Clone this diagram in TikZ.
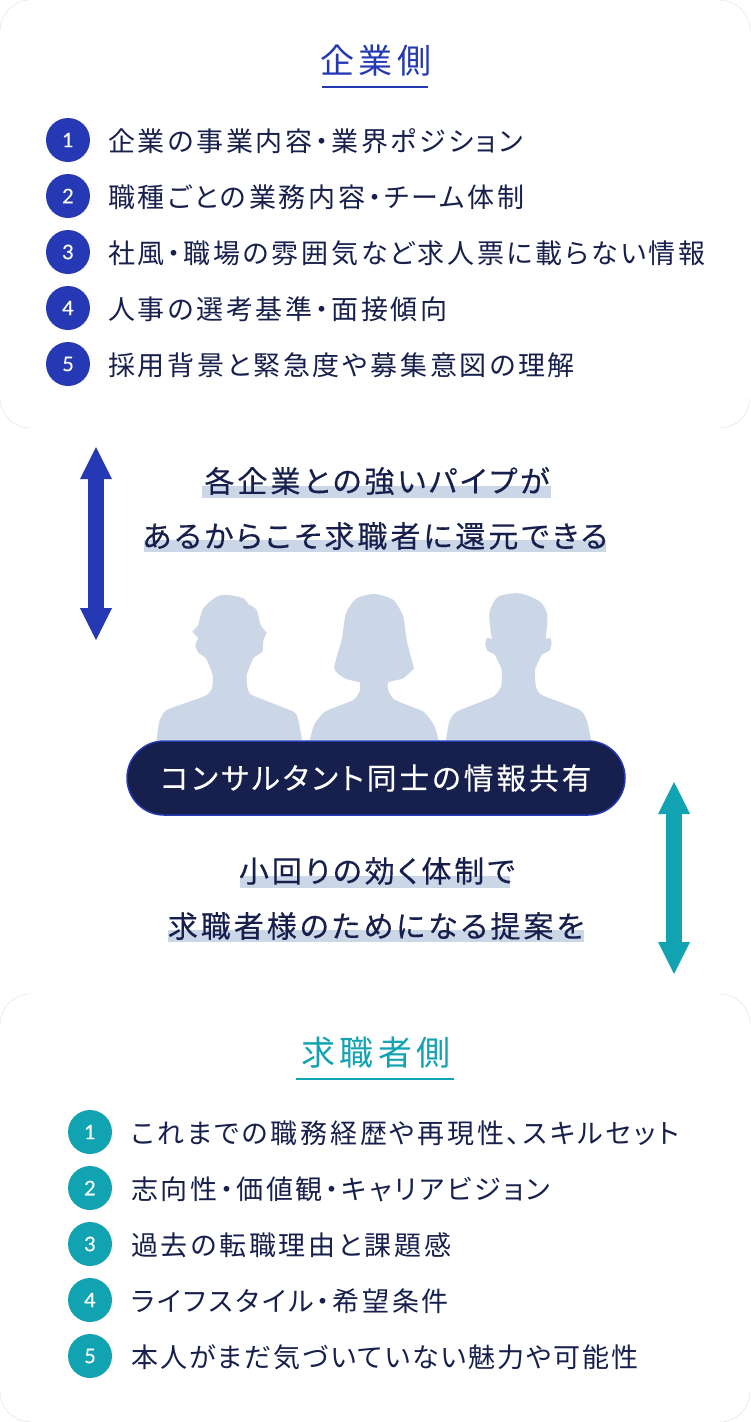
\documentclass[tikz,border=0pt]{standalone}
\usepackage{fontspec}
\usepackage{xcolor}
\setmainfont[RawFeature=+palt,LetterSpace=10]{Noto Sans CJK JP}
\newfontfamily\numfont[FakeBold=0.3]{Lato}
\newfontfamily\headfont[RawFeature=+palt,LetterSpace=12]{Noto Sans CJK JP}
\newfontfamily\leadfont[RawFeature=+palt,LetterSpace=10,FakeBold=0.3]{Noto Sans CJK JP}
\newfontfamily\tightfont[RawFeature=+palt,LetterSpace=7.5]{Noto Sans CJK JP}
\definecolor{royal}{RGB}{37,57,180}
\definecolor{navy}{RGB}{23,31,76}
\definecolor{teal2}{RGB}{18,163,179}
\definecolor{paleblue}{RGB}{203,215,231}
\definecolor{edgegray}{RGB}{226,232,241}
\usetikzlibrary{arrows.meta}
\usetikzlibrary{positioning}
\tikzset{
	cardedge/.style={draw=edgegray, line width=0.6pt},
	numdot/.style={circle, minimum size=44pt, inner sep=0pt, text=white, font=\numfont\fontsize{20}{20}\selectfont},
	itemtext/.style={anchor=west, inner sep=0pt, yshift=-1pt, text=navy, font=\fontsize{27}{27}\selectfont},
	headtext/.style={anchor=center, inner sep=0pt, font=\headfont\fontsize{34}{34}\selectfont},
	leadtext/.style={anchor=center, inner sep=0pt, text=navy, font=\leadfont\fontsize{30}{30}\selectfont},
	bigarrow/.style={line width=16pt, {Triangle[length=32pt,width=32pt,line width=0pt]}-{Triangle[length=32pt,width=32pt,line width=0pt]}},
}

\begin{document}
\begin{tikzpicture}[x=1pt, y=-1pt]
	\useasboundingbox (0,0) rectangle (750,1422);
	\fill[white] (0,0) rectangle (750,1422);
	% card corners
	\draw[cardedge] (0.3,30) arc[start angle=180, end angle=90, radius=30pt]
		(720,0.3) arc[start angle=90, end angle=0, radius=30pt]
		(749.7,398) arc[start angle=0, end angle=-90, radius=30pt]
		(30,428) arc[start angle=-90, end angle=-180, radius=30pt];
	\draw[cardedge] (0.3,1024) arc[start angle=180, end angle=90, radius=30pt]
		(720,994) arc[start angle=90, end angle=0, radius=30pt]
		(749.7,1392) arc[start angle=0, end angle=-90, radius=30pt]
		(30,1421.7) arc[start angle=-90, end angle=-180, radius=30pt];

	% company side
	\node[headtext, text=royal] (compHead) at (376,61) {企業側};
	\draw[color=royal, line width=2pt] (322,87) -- (428,87);
	\node[numdot, fill=royal] (compNum1) at (68,140) {1};
	\node[numdot, fill=royal] (compNum2) at (68,196) {2};
	\node[numdot, fill=royal] (compNum3) at (68,252) {3};
	\node[numdot, fill=royal] (compNum4) at (68,308) {4};
	\node[numdot, fill=royal] (compNum5) at (68,364) {5};
	\node[itemtext] (compItem1) at (108,140) {企業の事業内容・業界ポジション};
	\node[itemtext] (compItem2) at (108,196) {職種ごとの業務内容・チーム体制};
	\node[itemtext] (compItem3) at (108,252) {社風・職場の雰囲気など求人票に載らない情報};
	\node[itemtext] (compItem4) at (108,308) {人事の選考基準・面接傾向};
	\node[itemtext] (compItem5) at (108,364) {採用背景と緊急度や募集意図の理解};

	% arrows
	\coordinate (blueTop) at (96,447);
	\coordinate (blueBot) at (96,640);
	\coordinate (tealTop) at (674,782);
	\coordinate (tealBot) at (674,974);
	\draw[bigarrow, color=royal] (blueTop) -- (blueBot);
	\draw[bigarrow, color=teal2] (tealTop) -- (tealBot);

	% lead texts with bands
	\fill[paleblue] (202,486) rectangle (551,498);
	\fill[paleblue] (144,540) rectangle (606,552);
	\fill[paleblue] (240,876) rectangle (510,888);
	\fill[paleblue] (168,930) rectangle (584,942);
	\node[leadtext] (leadA) at (377,481) {各企業との強いパイプが};
	\node[leadtext] (leadB) at (375,536) {あるからこそ求職者に還元できる};
	\node[leadtext] (leadC) at (377,871) {小回りの効く体制で};
	\node[leadtext] (leadD) at (376,926) {求職者様のためになる提案を};

	% people
	\begin{scope}[shift={(130,580)}, x=0.3333pt, y=-0.3333pt]
		\fill[paleblue] plot[smooth, tension=0.3] coordinates {(80,480) (88,425) (110,390) (225,348) (246,325) (248,285) (228,235) (205,218) (196,195) (205,175)}
			-- (187,155) -- plot[smooth, tension=0.45] coordinates {(205,135) (220,85) (260,50) (295,45) (340,55) (355,72) (380,90) (392,135) (410,158)}
			-- plot[smooth, tension=0.3] coordinates {(400,180) (397,215) (370,235) (350,285) (352,320) (365,345) (490,395) (505,420) (516,480)} -- cycle;
		\fill[paleblue] plot[smooth, tension=0.3] coordinates {(540,480) (552,435) (585,395) (670,360) (690,332) (690,307)}
			-- plot[smooth, tension=0.4] coordinates {(690,307) (645,295) (613,265) (635,180) (648,100) (680,55) (735,42) (790,60) (820,110) (830,180) (852,265)}
			-- plot[smooth, tension=0.3] coordinates {(852,265) (820,295) (775,307) (775,332) (795,360) (880,395) (912,435) (926,480)} -- cycle;
		\fill[paleblue] plot[smooth, tension=0.3] coordinates {(948,480) (958,425) (980,395) (1090,350) (1114,318) (1115,270) (1095,225) (1072,212) (1066,190) (1072,173) (1086,178)}
			-- plot[smooth, tension=0.45] coordinates {(1086,178) (1078,100) (1105,50) (1170,40) (1230,65) (1252,105) (1247,178)}
			-- plot[smooth, tension=0.3] coordinates {(1247,178) (1260,173) (1265,190) (1258,212) (1235,225) (1215,270) (1218,320) (1235,345) (1350,390) (1372,425) (1383,480)} -- cycle;
	\end{scope}

	% pill
	\node[draw=royal, fill=navy, line width=1.5pt, rounded corners=37pt, minimum width=498pt, minimum height=74pt, inner sep=0pt, text=white, font=\leadfont\fontsize{29.7}{30}\selectfont] (sharePill) at (376,778) {コンサルタント同士の情報共有};

	% job seeker side
	\node[headtext, text=teal2] (seekHead) at (376,1053) {求職者側};
	\draw[color=teal2, line width=2pt] (296,1079) -- (454,1079);
	\node[numdot, fill=teal2] (seekNum1) at (90,1132) {1};
	\node[numdot, fill=teal2] (seekNum2) at (90,1188) {2};
	\node[numdot, fill=teal2] (seekNum3) at (90,1244) {3};
	\node[numdot, fill=teal2] (seekNum4) at (90,1300) {4};
	\node[numdot, fill=teal2] (seekNum5) at (90,1356) {5};
	\node[itemtext] (seekItem1) at (131,1132) {これまでの職務経歴や再現性、スキルセット};
	\node[itemtext] (seekItem2) at (131,1188) {志向性・価値観・キャリアビジョン};
	\node[itemtext] (seekItem3) at (131,1244) {過去の転職理由と課題感};
	\node[itemtext] (seekItem4) at (131,1300) {ライフスタイル・希望条件};
	\node[itemtext, font=\tightfont\fontsize{27}{27}\selectfont] (seekItem5) at (131,1356) {本人がまだ気づいていない魅力や可能性};
\end{tikzpicture}
\end{document}
